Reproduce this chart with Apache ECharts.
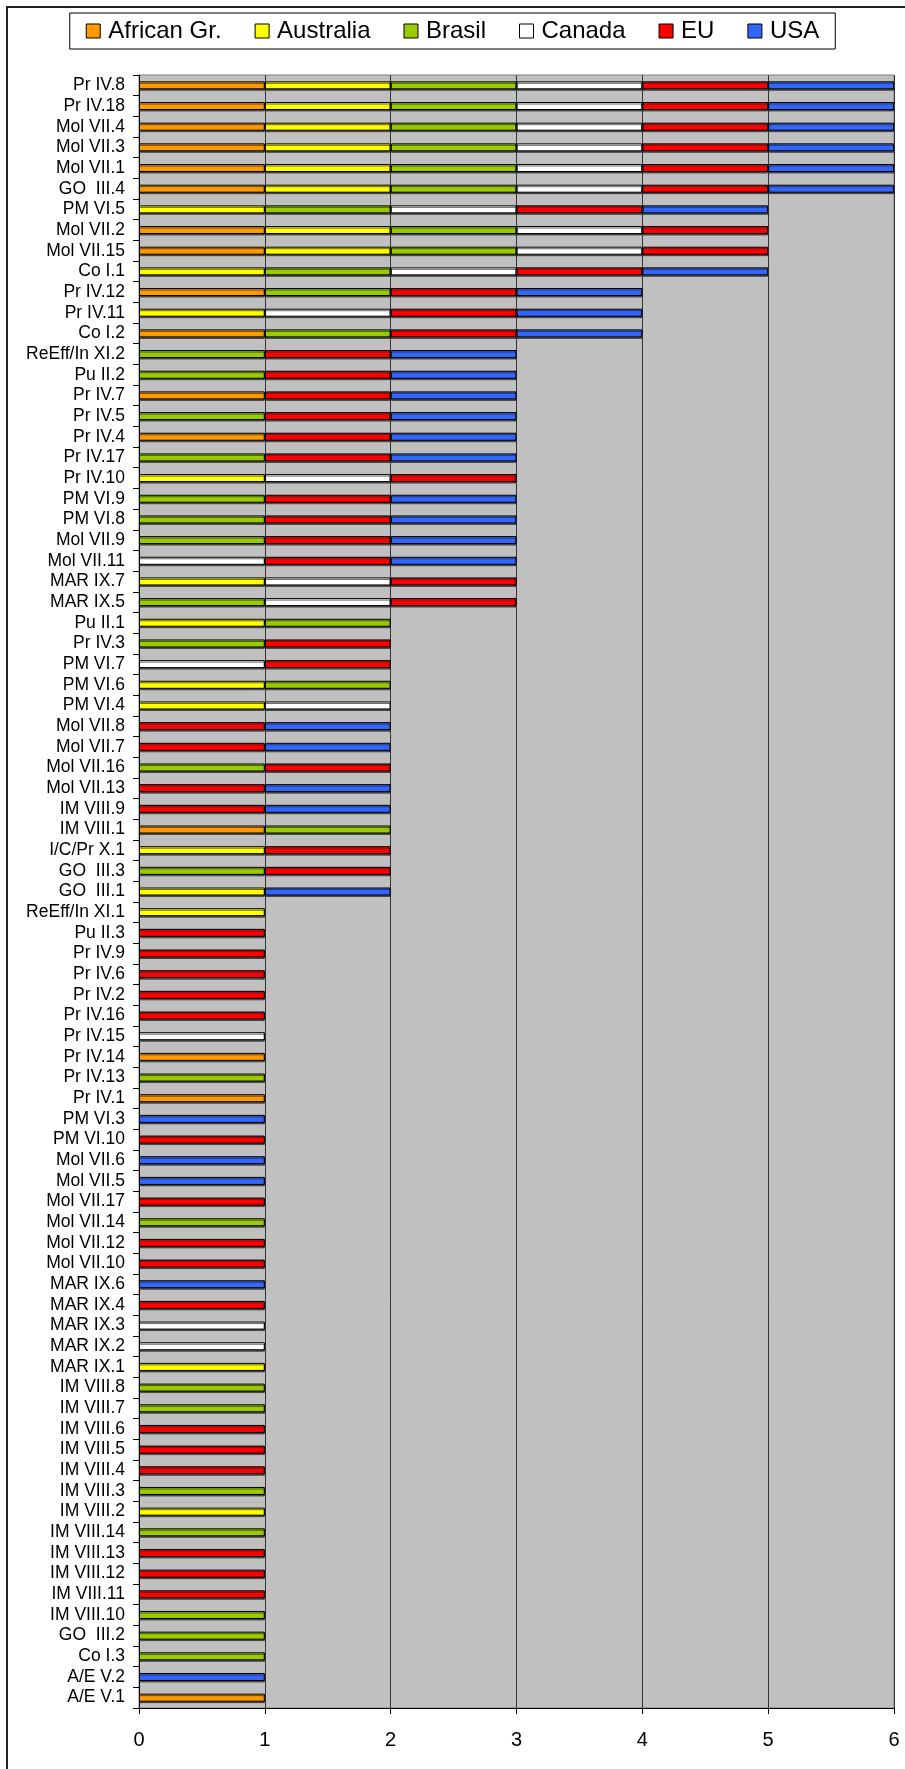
<!DOCTYPE html>
<html>
<head>
<meta charset="utf-8">
<script src="https://cdn.jsdelivr.net/npm/echarts@6/dist/echarts.min.js"></script>
<style>
html,body{margin:0;padding:0;background:#fff;}
#chart{width:905px;height:1769px;}
</style>
</head>
<body>
<div id="chart"></div>
<script>
// Categories, top to bottom
const categories = [
  'Pr IV.8','Pr IV.18','Mol VII.4','Mol VII.3','Mol VII.1','GO  III.4','PM VI.5','Mol VII.2','Mol VII.15','Co I.1',
  'Pr IV.12','Pr IV.11','Co I.2','ReEff/In XI.2','Pu II.2','Pr IV.7','Pr IV.5','Pr IV.4','Pr IV.17','Pr IV.10',
  'PM VI.9','PM VI.8','Mol VII.9','Mol VII.11','MAR IX.7','MAR IX.5','Pu II.1','Pr IV.3','PM VI.7','PM VI.6',
  'PM VI.4','Mol VII.8','Mol VII.7','Mol VII.16','Mol VII.13','IM VIII.9','IM VIII.1','I/C/Pr X.1','GO  III.3','GO  III.1',
  'ReEff/In XI.1','Pu II.3','Pr IV.9','Pr IV.6','Pr IV.2','Pr IV.16','Pr IV.15','Pr IV.14','Pr IV.13','Pr IV.1',
  'PM VI.3','PM VI.10','Mol VII.6','Mol VII.5','Mol VII.17','Mol VII.14','Mol VII.12','Mol VII.10','MAR IX.6','MAR IX.4',
  'MAR IX.3','MAR IX.2','MAR IX.1','IM VIII.8','IM VIII.7','IM VIII.6','IM VIII.5','IM VIII.4','IM VIII.3','IM VIII.2',
  'IM VIII.14','IM VIII.13','IM VIII.12','IM VIII.11','IM VIII.10','GO  III.2','Co I.3','A/E V.2','A/E V.1'
];

const seriesNames = ['African Gr.','Australia','Brasil','Canada','EU','USA'];

// 1 = group present, 0 = absent (one value per category, top to bottom)
const africanGr = [
  1,1,1,1,1,1,0,1,1,0,
  1,0,1,0,0,1,0,1,0,0,
  0,0,0,0,0,0,0,0,0,0,
  0,0,0,0,0,0,1,0,0,0,
  0,0,0,0,0,0,0,1,0,1,
  0,0,0,0,0,0,0,0,0,0,
  0,0,0,0,0,0,0,0,0,0,
  0,0,0,0,0,0,0,0,1
];
const australia = [
  1,1,1,1,1,1,1,1,1,1,
  0,1,0,0,0,0,0,0,0,1,
  0,0,0,0,1,0,1,0,0,1,
  1,0,0,0,0,0,0,1,0,1,
  1,0,0,0,0,0,0,0,0,0,
  0,0,0,0,0,0,0,0,0,0,
  0,0,1,0,0,0,0,0,0,1,
  0,0,0,0,0,0,0,0,0
];
const brasil = [
  1,1,1,1,1,1,1,1,1,1,
  1,0,1,1,1,0,1,0,1,0,
  1,1,1,0,0,1,1,1,0,1,
  0,0,0,1,0,0,1,0,1,0,
  0,0,0,0,0,0,0,0,1,0,
  0,0,0,0,0,1,0,0,0,0,
  0,0,0,1,1,0,0,0,1,0,
  1,0,0,0,1,1,1,0,0
];
const canada = [
  1,1,1,1,1,1,1,1,1,1,
  0,1,0,0,0,0,0,0,0,1,
  0,0,0,1,1,1,0,0,1,0,
  1,0,0,0,0,0,0,0,0,0,
  0,0,0,0,0,0,1,0,0,0,
  0,0,0,0,0,0,0,0,0,0,
  1,1,0,0,0,0,0,0,0,0,
  0,0,0,0,0,0,0,0,0
];
const eu = [
  1,1,1,1,1,1,1,1,1,1,
  1,1,1,1,1,1,1,1,1,1,
  1,1,1,1,1,1,0,1,1,0,
  0,1,1,1,1,1,0,1,1,0,
  0,1,1,1,1,1,0,0,0,0,
  0,1,0,0,1,0,1,1,0,1,
  0,0,0,0,0,1,1,1,0,0,
  0,1,1,1,0,0,0,0,0
];
const usa = [
  1,1,1,1,1,1,1,0,0,1,
  1,1,1,1,1,1,1,1,1,0,
  1,1,1,1,0,0,0,0,0,0,
  0,1,1,0,1,1,0,0,0,1,
  0,0,0,0,0,0,0,0,0,0,
  1,0,1,1,0,0,0,0,1,0,
  0,0,0,0,0,0,0,0,0,0,
  0,0,0,0,0,0,0,1,0
];

const xTicks = [0,1,2,3,4,5,6];

const seriesData = [africanGr, australia, brasil, canada, eu, usa];
const colors = ['#FF9900','#FFFF00','#99CC00','#FFFFFF','#FF0000','#3366FF'];

const chart = echarts.init(document.getElementById('chart'), null, {renderer:'canvas'});
const FONT = '"Liberation Sans", Arial, sans-serif';

const option = {
  animation: false,
  textStyle: {fontFamily: FONT},
  graphic: [{
    type: 'rect',
    shape: {x: 7, y: 7, width: 910, height: 1780},
    style: {fill: 'none', stroke: '#222', lineWidth: 2},
    silent: true, z: -1
  }],
  legend: {
    data: seriesNames,
    top: 13,
    left: 'center',
    padding: [6, 16, 6, 16],
    backgroundColor: '#fff',
    borderColor: '#000',
    borderWidth: 1,
    itemGap: 33,
    itemWidth: 14,
    itemHeight: 14,
    icon: 'rect',
    itemStyle: {borderColor: '#000', borderWidth: 1},
    textStyle: {fontSize: 24, color: '#000', fontFamily: FONT, padding: [0,0,0,3]}
  },
  grid: {
    left: 139, right: 11, top: 75, bottom: 61,
    show: true,
    backgroundColor: '#C0C0C0',
    borderColor: '#808080',
    borderWidth: 1,
    containLabel: false
  },
  xAxis: {
    type: 'value',
    min: xTicks[0], max: xTicks[xTicks.length-1], interval: 1,
    axisLine: {show: true, lineStyle: {color: '#000', width: 1}},
    axisTick: {show: true, length: 6, lineStyle: {color: '#000'}},
    axisLabel: {fontSize: 20, color: '#000', margin: 22, fontFamily: FONT},
    splitLine: {show: true, lineStyle: {color: '#333', width: 1}}
  },
  yAxis: {
    type: 'category',
    data: categories,
    inverse: true,
    axisLine: {show: true, lineStyle: {color: '#000', width: 1}},
    axisTick: {show: true, length: 6, lineStyle: {color: '#000'}},
    axisLabel: {fontSize: 17.5, color: '#000', margin: 14, fontFamily: FONT, interval: 0},
    splitLine: {show: false}
  },
  series: seriesNames.map((name, i) => ({
    name: name,
    type: 'bar',
    stack: 'total',
    barWidth: 8,
    data: seriesData[i].map(v => v ? v : '-'),
    itemStyle: {
      color: colors[i],
      borderColor: '#000',
      borderWidth: 1,
      shadowColor: 'rgba(40,40,40,0.7)',
      shadowOffsetY: 1.5,
      shadowOffsetX: 0,
      shadowBlur: 0
    },
    emphasis: {disabled: true}
  }))
};
chart.setOption(option);
</script>
</body>
</html>
